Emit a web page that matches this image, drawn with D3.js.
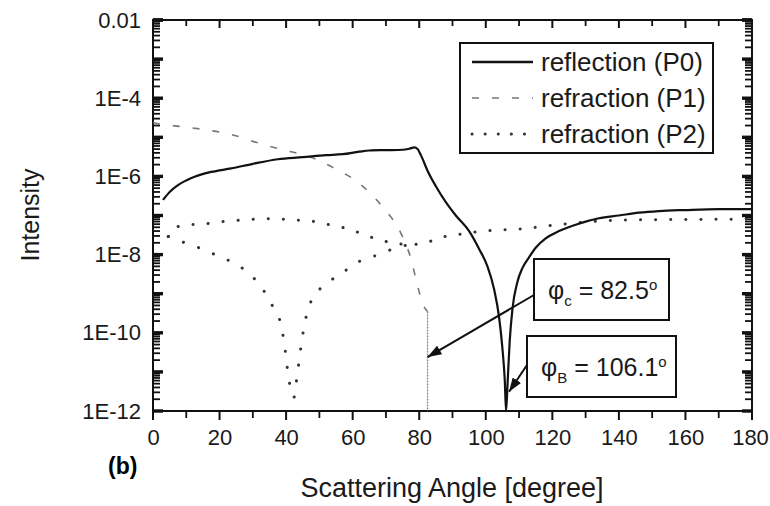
<!DOCTYPE html>
<html>
<head>
<meta charset="utf-8">
<script src="https://cdn.jsdelivr.net/npm/d3@7"></script>
<style>
    body { margin: 0; background: #fff; }
    text { font-family: "Liberation Sans", Arial, sans-serif; fill: #1a1a1a; }
</style>
</head>
<body>
<svg id="chart" width="770" height="506"></svg>
<script>
// reflection (P0), solid
var p0Angle = [3, 5, 7.5, 10, 12.5, 17.5, 23.5, 30, 37.5, 45, 52, 57, 62, 65, 70, 75, 77, 78.5, 79.5, 80.5,
    82.5, 85, 88, 91, 95, 98, 100.5, 102.5, 104, 105, 105.7, 106.1, 106.6, 107.2, 108, 109.5, 111, 113, 115,
    118, 122, 128, 134, 140, 146, 152, 160, 170, 180];
var p0Intensity = [2.5e-7, 4.0e-7, 6.0e-7, 7.9e-7, 9.8e-7, 1.3e-6, 1.6e-6, 2.1e-6, 2.75e-6, 3.1e-6, 3.5e-6, 3.7e-6,
    4.3e-6, 4.6e-6, 4.7e-6, 4.8e-6, 5.1e-6, 5.5e-6, 5.0e-6, 3.5e-6, 1.4e-6, 5.6e-7, 2.2e-7, 1.0e-7, 4.0e-8, 1.4e-8,
    5.0e-9, 1.3e-9, 2.5e-10, 4.0e-11, 6.3e-12, 1e-12, 6.3e-12, 6.3e-11, 4.0e-10, 2.0e-9, 4.5e-9, 8.5e-9, 1.5e-8,
    2.6e-8, 4.0e-8, 6.2e-8, 8.5e-8, 1.0e-7, 1.18e-7, 1.3e-7, 1.38e-7, 1.45e-7, 1.45e-7];

// refraction (P1), dashed
var p1Angle = [0, 2, 9, 16, 24, 31.5, 39, 47, 54, 62, 69, 74.5, 77.5, 79.5, 81, 82.5];
var p1Intensity = [2.4e-5, 2.2e-5, 1.86e-5, 1.55e-5, 1.15e-5, 7.2e-6, 4.8e-6, 3.2e-6, 1.7e-6, 6.6e-7, 1.66e-7,
    3.5e-8, 7.9e-9, 1.6e-9, 5.6e-10, 3.5e-10];

// refraction (P2), dotted - upper branch
var p2UpperAngle = [4.6, 5.4, 10.3, 14.8, 19.5, 24.4, 29.1, 34, 38.8, 43.4, 48.1, 53, 58, 62.5, 67.2, 72, 77,
    82, 86, 91, 96, 101, 110, 120, 130, 140, 160, 180];
var p2UpperIntensity = [2.9e-8, 4.3e-8, 5.8e-8, 6.0e-8, 6.8e-8, 7.4e-8, 7.9e-8, 8.3e-8, 8.1e-8, 7.6e-8, 7.1e-8,
    5.8e-8, 4.7e-8, 3.5e-8, 2.5e-8, 2.0e-8, 1.8e-8, 2.0e-8, 2.7e-8, 3.2e-8, 3.7e-8, 4.1e-8, 4.5e-8, 5.6e-8, 6.8e-8,
    7.6e-8, 7.9e-8, 8.1e-8];

// refraction (P2), dotted - lower branch
var p2LowerAngle = [4.6, 9.6, 14.2, 18.6, 23.9, 28.5, 33, 36, 38.3, 39.5, 40.5, 42.3, 43.3, 44.4, 45.5, 47, 49,
    53.5, 58.4, 62.7, 67.9, 72.1, 77];
var p2LowerIntensity = [2.9e-8, 2.0e-8, 1.45e-8, 1.0e-8, 6.3e-9, 3.5e-9, 1.3e-9, 4.7e-10, 1.8e-10, 5.0e-11, 1.0e-11,
    2.2e-12, 7.9e-12, 4.0e-11, 1.6e-10, 5.0e-10, 1.0e-9, 2.2e-9, 4.2e-9, 7.2e-9, 1.0e-8, 1.4e-8, 1.8e-8];

var xTickValues = [0, 20, 40, 60, 80, 100, 120, 140, 160, 180];
var yTickValues = [1e-12, 1e-10, 1e-8, 1e-6, 1e-4, 1e-2];
var yTickLabels = ['1E-12', '1E-10', '1E-8', '1E-6', '1E-4', '0.01'];

var legendLabels = ['reflection (P0)', 'refraction (P1)', 'refraction (P2)'];

// critical angle and Brewster angle annotations
var annotationNames = ['c', 'B'];
var annotationValues = ['82.5', '106.1'];
var annotationTipAngle = [82.5, 107];
var annotationTipIntensity = [2.4e-11, 3.1e-12];
var criticalAngle = 82.5;

var MARGIN = {
    LEFT: 153,
    RIGHT: 18,
    TOP: 20,
    BOTTOM: 95
};

var width = 770 - MARGIN.LEFT - MARGIN.RIGHT,
    height = 506 - MARGIN.TOP - MARGIN.BOTTOM;

var svg = d3.select('#chart');
var g = svg.append('g')
    .attr('transform', 'translate(' + MARGIN.LEFT + ',' + MARGIN.TOP + ')');

var x = d3.scaleLinear().domain([0, 180]).range([0, width]);
var y = d3.scaleLog().domain([1e-12, 1e-2]).range([height, 0]).clamp(true);

function zip(a, b) {
    return a.map(function (v, i) { return [v, b[i]]; });
}

// minor ticks
var minorX = d3.range(10, 180, 20);
var decades = d3.range(-12, -1).map(function (e) { return Math.pow(10, e); }).concat([1e-2]);
var minorY = [];
decades.slice(0, -1).forEach(function (d) {
    for (var k = 2; k <= 9; k++) minorY.push(d * k);
});

// tick marks drawn by hand so they sit inside / outside the frame
function xTicks(values, y0, len, w) {
    g.append('g').selectAll('line')
        .data(values)
        .enter()
        .append('line')
        .attr('x1', function (d) { return x(d); })
        .attr('x2', function (d) { return x(d); })
        .attr('y1', y0)
        .attr('y2', y0 + len)
        .style('stroke', '#111')
        .style('stroke-width', w);
}
function yTicks(values, x0, len, w) {
    g.append('g').selectAll('line')
        .data(values)
        .enter()
        .append('line')
        .attr('y1', function (d) { return y(d); })
        .attr('y2', function (d) { return y(d); })
        .attr('x1', x0)
        .attr('x2', x0 + len)
        .style('stroke', '#111')
        .style('stroke-width', w);
}

xTicks(xTickValues, height, 9, 2);
xTicks(minorX, height, 7, 1.8);
xTicks(xTickValues, 0, 8, 2);
xTicks(minorX, 0, 6, 1.8);
yTicks(decades, 0, 10, 3.4);
yTicks(minorY, 0, 7, 1.8);
yTicks(decades, width, -10, 3.4);
yTicks(minorY, width, -7, 1.8);

// tick labels
var bottomAxis = g.append('g')
    .attr('transform', 'translate(0,' + height + ')')
    .call(d3.axisBottom(x).tickValues(xTickValues).tickSize(0).tickPadding(18).tickFormat(d3.format('d')));
var leftAxis = g.append('g')
    .call(d3.axisLeft(y).tickValues(yTickValues).tickSize(0).tickPadding(12)
        .tickFormat(function (d, i) { return yTickLabels[i]; }));
[bottomAxis, leftAxis].forEach(function (a) {
    a.select('.domain').remove();
    a.attr('font-family', null).attr('font-size', null);
    a.selectAll('text').style('font-size', '22px').style('fill', '#1a1a1a');
});
bottomAxis.selectAll('text').filter(function (d) { return d === 180; }).attr('dx', -2);

// frame
g.append('rect')
    .attr('width', width)
    .attr('height', height)
    .attr('fill', 'none')
    .attr('stroke', '#111')
    .attr('stroke-width', 2);

var line = d3.line()
    .x(function (d) { return x(d[0]); })
    .y(function (d) { return y(d[1]); })
    .curve(d3.curveMonotoneX);

var plot = g.append('g');

// critical angle drop for P1
plot.append('line')
    .attr('x1', x(criticalAngle)).attr('x2', x(criticalAngle))
    .attr('y1', y(p1Intensity[p1Intensity.length - 1])).attr('y2', y(1e-12))
    .attr('stroke', '#888')
    .attr('stroke-width', 1.3)
    .attr('stroke-dasharray', '2,1');

plot.append('path')
    .attr('d', line(zip(p2UpperAngle, p2UpperIntensity)))
    .attr('fill', 'none')
    .attr('stroke', '#333')
    .attr('stroke-width', 3)
    .attr('stroke-linecap', 'round')
    .attr('stroke-dasharray', '0.1,15');
plot.append('path')
    .attr('d', line(zip(p2LowerAngle, p2LowerIntensity)))
    .attr('fill', 'none')
    .attr('stroke', '#333')
    .attr('stroke-width', 3)
    .attr('stroke-linecap', 'round')
    .attr('stroke-dasharray', '0.1,16');

plot.append('path')
    .attr('d', line(zip(p1Angle, p1Intensity)))
    .attr('fill', 'none')
    .attr('stroke', '#777')
    .attr('stroke-width', 1.6)
    .attr('stroke-dasharray', '7,13');

plot.append('path')
    .attr('d', line(zip(p0Angle, p0Intensity)))
    .attr('fill', 'none')
    .attr('stroke', '#111')
    .attr('stroke-width', 2.2);

// legend
var legend = g.append('g').attr('transform', 'translate(307,23)');
legend.append('rect')
    .attr('width', 253)
    .attr('height', 110)
    .attr('fill', '#fff')
    .attr('stroke', '#111')
    .attr('stroke-width', 2);
var legendDash = [null, '7,13', '0.1,13'];
var legendColor = ['#111', '#777', '#333'];
var legendWidth = [2.4, 1.6, 3];
legendLabels.forEach(function (label, i) {
    var ly = 19 + i * 36;
    legend.append('line')
        .attr('x1', 12).attr('x2', 73)
        .attr('y1', ly).attr('y2', ly)
        .attr('stroke', legendColor[i])
        .attr('stroke-width', legendWidth[i])
        .attr('stroke-linecap', i === 2 ? 'round' : 'butt')
        .attr('stroke-dasharray', legendDash[i]);
    legend.append('text')
        .attr('x', 81)
        .attr('y', ly)
        .attr('dy', '0.35em')
        .style('font-size', '26px')
        .text(label);
});

// annotations
svg.append('defs').append('marker')
    .attr('id', 'head')
    .attr('markerUnits', 'userSpaceOnUse')
    .attr('markerWidth', 16).attr('markerHeight', 10)
    .attr('refX', 14).attr('refY', 5)
    .attr('orient', 'auto')
    .append('path')
    .attr('d', 'M0,0 L14,5 L0,10 z')
    .attr('fill', '#111');

var boxes = [
    { x: 381, y: 239, w: 135, h: 61, tx: 395, ax: 381, ay: 275 },
    { x: 374, y: 316, w: 149, h: 61, tx: 388, ax: 374, ay: 345 }
];
boxes.forEach(function (b, i) {
    g.append('rect')
        .attr('x', b.x).attr('y', b.y)
        .attr('width', b.w).attr('height', b.h)
        .attr('fill', '#fff')
        .attr('stroke', '#111')
        .attr('stroke-width', 2);
    var t = g.append('text')
        .attr('x', b.tx)
        .attr('y', b.y + b.h / 2 + 9)
        .style('font-size', '25px');
    t.append('tspan').text('\u03c6');
    t.append('tspan').attr('dy', 7).style('font-size', '15px').text(annotationNames[i]);
    t.append('tspan').attr('dy', -7).text(' = ' + annotationValues[i]);
    t.append('tspan').attr('dy', -9).style('font-size', '15px').text('o');
    g.append('line')
        .attr('x1', b.ax).attr('y1', b.ay)
        .attr('x2', x(annotationTipAngle[i])).attr('y2', y(annotationTipIntensity[i]))
        .attr('stroke', '#111')
        .attr('stroke-width', 2)
        .attr('marker-end', 'url(#head)');
});

// axis titles
svg.append('text')
    .attr('transform', 'translate(39,215) rotate(-90)')
    .attr('text-anchor', 'middle')
    .style('font-size', '25px')
    .text('Intensity');
svg.append('text')
    .attr('x', 452)
    .attr('y', 497)
    .attr('text-anchor', 'middle')
    .style('font-size', '27px')
    .text('Scattering Angle [degree]');
svg.append('text')
    .attr('x', 108)
    .attr('y', 474)
    .style('font-size', '23px')
    .style('font-weight', 'bold')
    .style('fill', '#000')
    .text('(b)');
</script>
</body>
</html>
